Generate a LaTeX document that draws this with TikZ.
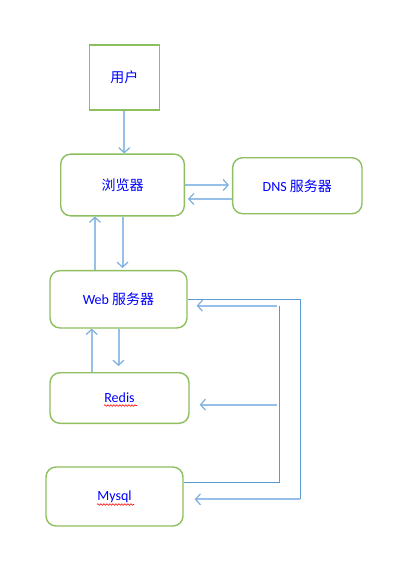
\documentclass[tikz,border=0pt]{standalone}
\usepackage{fontspec}
\setmainfont{Carlito}
\newfontfamily\cjk{Noto Sans CJK SC}
\usetikzlibrary{arrows.meta, calc, decorations.pathmorphing}
\definecolor{boxGreen}{RGB}{141, 190, 96}
\definecolor{lineBlue}{RGB}{91, 155, 213}
\definecolor{arrBlue}{RGB}{150, 192, 232}
\definecolor{textBlue}{RGB}{0, 0, 255}

\begin{document}
\begin{tikzpicture}[x=1pt, y=-1pt,
    box/.style={draw=boxGreen, line width=1.4pt, rounded corners=10pt, align=center,
      text=textBlue, font=\fontsize{14}{16}\selectfont, inner sep=0pt},
    line/.style={draw=lineBlue, line width=1pt},
    arr/.style={draw=arrBlue, line width=2pt,
      -{Straight Barb[length=5pt, width=11pt, line width=1.2pt, color=lineBlue!80]}},
    squiggle/.style={draw=red, line width=0.6pt,
      decoration={snake, amplitude=0.8pt, segment length=3pt}, decorate}]
  \useasboundingbox (0,0) rectangle (409,575);

  \node[box, sharp corners, line join=miter, minimum width=70pt, minimum height=65pt] (usr) at (124.3,77.5) {\cjk 用户};
  \node[box, minimum width=123.6pt, minimum height=61.7pt] (brw) at (122.5,185) {\cjk 浏览器};
  \node[box, minimum width=129.3pt, minimum height=56pt] (dns) at (297.3,185.7) {DNS {\cjk 服务器}};
  \node[box, minimum width=137pt, minimum height=57.3pt] (web) at (118.5,299.3) {Web {\cjk 服务器}};
  \node[box, minimum width=139pt, minimum height=50.6pt] (red) at (119.5,398) {Redis};
  \node[box, minimum width=137pt, minimum height=59pt] (mys) at (114.5,496.5) {Mysql};

  % spell-check underlines
  \draw[squiggle] (104,405.5) -- (137,405.5);
  \draw[squiggle] (97,504.5) -- (134,504.5);

  \draw[arr] (usr.south) -- (usr.south |- brw.north);
  \draw[arr, shorten >=3pt] (brw.east) -- (brw.east -| dns.west);
  \coordinate (dr) at ($(dns.west)+(0,13.3)$);
  \draw[arr, shorten >=3pt] (dr) -- (dr -| brw.east);

  \coordinate (wl) at ($(web.north)+(-23.5,0)$);
  \draw[arr] (wl) -- (wl |- brw.south);
  \draw[arr, shorten >=2pt] (brw.south) -- (brw.south |- web.north);

  \coordinate (rl) at ($(red.north)+(-27.8,0)$);
  \draw[arr] (rl) -- (rl |- web.south);
  \draw[arr, shorten >=6pt] (web.south) -- (web.south |- red.north);

  % web to mysql
  \coordinate (outer) at (300,499.3);
  \draw[line] (web.east) -| (outer);
  \draw[arr, shorten >=11pt] (outer) -- (outer -| mys.east);

  % mysql back to web and redis
  \coordinate (mo) at ($(mys.east)+(0,-14.5)$);
  \coordinate (inner) at (279.7,482);
  \coordinate (wi) at (279.7,305.7);
  \coordinate (ri) at (277,404.7);
  \draw[line] (mo) -- (inner) -- (wi);
  \draw[arr, shorten >=9pt] ($(wi)+(-2.5,0)$) -- (wi -| web.east);
  \draw[arr, shorten >=10pt] (ri) -- (ri -| red.east);
\end{tikzpicture}
\end{document}
